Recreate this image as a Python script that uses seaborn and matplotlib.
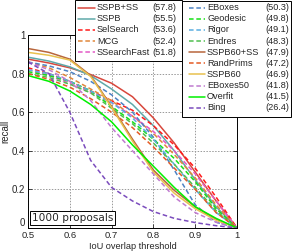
import numpy as np
import pandas as pd
import matplotlib
matplotlib.use("Agg")
import matplotlib.pyplot as plt
import seaborn as sns
from matplotlib.lines import Line2D
from matplotlib.patches import Rectangle

iou = [0.5, 0.55, 0.6, 0.65, 0.7, 0.75, 0.8, 0.85, 0.9, 0.95, 1.0]

methods = ["SSPB+SS", "SSPB", "SelSearch", "MCG", "SSearchFast",
           "EBoxes", "Geodesic", "Rigor", "Endres", "SSPB60+SS",
           "RandPrims", "SSPB60", "EBoxes50", "Overfit", "Bing"]
scores = ["57.8", "55.5", "53.6", "52.4", "51.8",
          "50.3", "49.8", "49.1", "48.3", "47.9",
          "47.2", "46.9", "41.8", "41.5", "26.4"]

sspb_ss     = [0.875, 0.855, 0.83, 0.795, 0.75, 0.68, 0.57, 0.44, 0.29, 0.14, 0.0]
sspb        = [0.885, 0.865, 0.835, 0.79, 0.72, 0.64, 0.53, 0.40, 0.25, 0.11, 0.0]
selsearch   = [0.83, 0.80, 0.76, 0.71, 0.66, 0.61, 0.53, 0.43, 0.31, 0.16, 0.0]
mcg         = [0.86, 0.83, 0.78, 0.72, 0.66, 0.58, 0.49, 0.38, 0.26, 0.12, 0.0]
ssearchfast = [0.82, 0.79, 0.75, 0.70, 0.65, 0.58, 0.50, 0.40, 0.28, 0.14, 0.0]
eboxes      = [0.86, 0.84, 0.81, 0.76, 0.69, 0.60, 0.47, 0.30, 0.12, 0.03, 0.0]
geodesic    = [0.81, 0.79, 0.76, 0.71, 0.63, 0.55, 0.46, 0.36, 0.24, 0.10, 0.0]
rigor       = [0.82, 0.80, 0.76, 0.71, 0.65, 0.57, 0.46, 0.33, 0.20, 0.08, 0.0]
endres      = [0.80, 0.78, 0.745, 0.70, 0.62, 0.54, 0.44, 0.33, 0.21, 0.09, 0.0]
sspb60_ss   = [0.93, 0.91, 0.875, 0.79, 0.63, 0.46, 0.30, 0.195, 0.11, 0.045, 0.0]
randprims   = [0.80, 0.77, 0.73, 0.67, 0.60, 0.52, 0.42, 0.31, 0.20, 0.08, 0.0]
sspb60      = [0.91, 0.895, 0.87, 0.785, 0.625, 0.45, 0.29, 0.18, 0.10, 0.04, 0.0]
eboxes50    = [0.86, 0.82, 0.76, 0.66, 0.52, 0.40, 0.28, 0.16, 0.08, 0.03, 0.0]
overfit     = [0.79, 0.76, 0.71, 0.64, 0.55, 0.43, 0.32, 0.21, 0.11, 0.05, 0.0]
bing        = [0.86, 0.80, 0.60, 0.35, 0.21, 0.14, 0.085, 0.05, 0.028, 0.012, 0.0]

series = [sspb_ss, sspb, selsearch, mcg, ssearchfast, eboxes, geodesic, rigor,
          endres, sspb60_ss, randprims, sspb60, eboxes50, overfit, bing]

colors = ["#d8473c", "#5fa9a9", "#ff1a1a", "#e0873a", "#e35ac6",
          "#4d82c4", "#16e016", "#5aaee0", "#4fbf4f", "#b8663c",
          "#e45a24", "#e8c14e", "#c07ad0", "#00f000", "#7b4cbd"]
solid = [True, True, False, False, False, False, False, False, False, True,
         False, True, False, True, False]

rows = []
for m, s in zip(methods, series):
    for x, y in zip(iou, s):
        rows.append((m, x, y))
df = pd.DataFrame(rows, columns=["method", "iou", "recall"])

palette = dict(zip(methods, colors))
DASH = (3, 1.8)
dashes = {m: ("" if so else DASH) for m, so in zip(methods, solid)}

sns.set_style("white")
plt.rcParams["font.family"] = ["Liberation Sans", "DejaVu Sans"]

W, H = 293, 252
fig = plt.figure(figsize=(W / 100, H / 100), dpi=100)
ax = fig.add_axes([28 / W, 1 - 228 / H, (237 - 28) / W, (228 - 35) / H])

sns.lineplot(data=df, x="iou", y="recall", hue="method", style="method",
             palette=palette, dashes=dashes, hue_order=methods,
             style_order=methods, legend=False, ax=ax, linewidth=1.1,
             sort=False, estimator=None)

ax.set_xlim(0.5, 1.0)
ax.set_ylim(0, 1)
ax.set_xticks([0.5, 0.6, 0.7, 0.8, 0.9, 1.0])
ax.set_xticklabels(["0.5", "0.6", "0.7", "0.8", "0.9", "1"])
ax.set_yticks([0, 0.2, 0.4, 0.6, 0.8, 1.0])
ax.set_yticklabels(["0", "0.2", "0.4", "0.6", "0.8", "1"])
ax.tick_params(direction="in", length=3, width=0.6, labelsize=7, pad=2,
               top=True, right=True, bottom=True, left=True)
ax.tick_params(axis="x", labelsize=6.8, pad=2)
ax.grid(True, linestyle=(0, (1.5, 1.5)), color="#999999", linewidth=0.7)
for sp in ax.spines.values():
    sp.set_color("black")
    sp.set_linewidth(0.7)
ax.set_xlabel("")
ax.set_ylabel("recall", fontsize=7, labelpad=1)
# keep the "0" y label just clear of the "0.5" x label
ax.get_yticklabels()[0].set_verticalalignment("bottom")


def fx(px):
    return px / W


def fy(py):
    return 1 - py / H


fig.text(fx(132.5), fy(249.2), "IoU overlap threshold", fontsize=6.6,
         ha="center", va="baseline")

ax.text(0.02, 0.024, "1000 proposals", transform=ax.transAxes, fontsize=7.6,
        family=["DejaVu Sans"], ha="left", va="bottom",
        bbox=dict(boxstyle="square,pad=0.18", fc="white", ec="black", lw=0.7))

# legend frames
fig.add_artist(Rectangle((fx(75), fy(61)), fx(182) - fx(75), fy(0.5) - fy(61),
                         transform=fig.transFigure, fc="white", ec="black",
                         lw=0.7, zorder=5))
fig.add_artist(Rectangle((fx(182), fy(117)), fx(291) - fx(182), fy(0.5) - fy(117),
                         transform=fig.transFigure, fc="white", ec="black",
                         lw=0.7, zorder=6))

for i, (m, sc, c, so) in enumerate(zip(methods, scores, colors, solid)):
    if i < 5:
        x0, x1, xt, xv = 78, 95, 97, 176
        row = i
    else:
        x0, x1, xt, xv = 189, 205, 207, 289
        row = i - 5
    py = 7.8 + 11.1 * row
    ln = Line2D([fx(x0), fx(x1)], [fy(py), fy(py)], transform=fig.transFigure,
                color=c, lw=1.1, zorder=7,
                linestyle="-" if so else (0, DASH))
    fig.add_artist(ln)
    fig.text(fx(xt), fy(py), m, fontsize=6.6, ha="left", va="center", zorder=7)
    fig.text(fx(xv), fy(py), "(" + sc + ")", fontsize=6.6, ha="right",
             va="center", zorder=7)

fig.savefig("out.png", dpi=100)
